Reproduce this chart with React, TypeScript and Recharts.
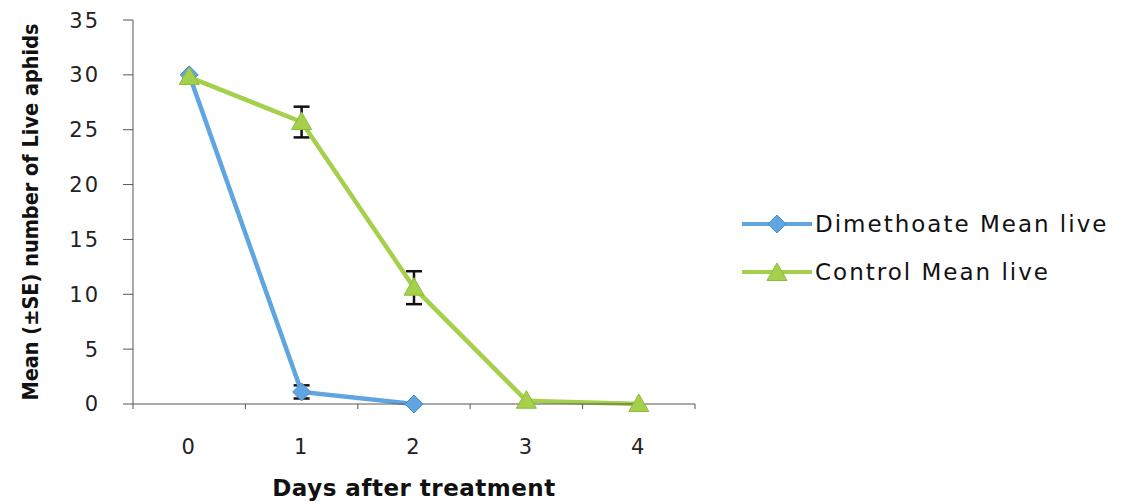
import React from 'react';
import { LineChart, Line, XAxis, YAxis, ErrorBar, Legend } from 'recharts';

const days = [0, 1, 2, 3, 4];
const dimethoateMean = [30, 1.1, 0, null, null];
const dimethoateSE = [0, 0.6, 0, null, null];
const controlMean = [29.8, 25.7, 10.6, 0.3, 0];
const controlSE = [0, 1.4, 1.5, 0, 0];
const yTicks = [0, 5, 10, 15, 20, 25, 30, 35];

const data = days.map((d, i) => ({
    day: d,
    dimethoate: dimethoateMean[i],
    dimethoateErr: dimethoateSE[i],
    control: controlMean[i],
    controlErr: controlSE[i],
}));

const W = 1106;
const H = 494;
const LEFT = 125;
const RIGHT = 419;
const HALF_BAND = (W - LEFT - RIGHT) / 5 / 2;

const BLUE = '#5fa5e2';
const GREEN = '#a4d04c';
const FONT = "'DejaVu Sans', 'Open Sans', sans-serif";

const Diamond = ({ cx, cy, color }: any) => {
    if (cx == null || cy == null) return null;
    const r = 9;
    return <path d={`M${cx},${cy - r}L${cx + r},${cy}L${cx},${cy + r}L${cx - r},${cy}Z`} fill={color} stroke="#4a8fd0" strokeWidth={1} />;
};

const Triangle = ({ cx, cy, color }: any) => {
    if (cx == null || cy == null) return null;
    const s = 10;
    return <path d={`M${cx},${cy - s}L${cx + s},${cy + s * 0.75}L${cx - s},${cy + s * 0.75}Z`} fill={color} stroke="#8dbb3a" strokeWidth={1} />;
};

const XTick = (props: any) => {
    const { x, y, payload, index } = props;
    return (
        <g>
            <line x1={x - HALF_BAND} x2={x - HALF_BAND} y1={y} y2={y + 5} stroke="#555" />
            {index === days.length - 1 && <line x1={x + HALF_BAND} x2={x + HALF_BAND} y1={y} y2={y + 5} stroke="#555" />}
            <text x={x} y={y + 43} textAnchor="middle" dominantBaseline="central" fontFamily={FONT} fontSize={21} letterSpacing={2} fill="#222">
                {payload.value}
            </text>
        </g>
    );
};

const LegendContent = () => {
    const rows = [
        { label: 'Dimethoate Mean live', color: BLUE, shape: 'diamond' },
        { label: 'Control Mean live', color: GREEN, shape: 'triangle' },
    ];
    return (
        <div>
            {rows.map((r) => (
                <div key={r.label} style={{ display: 'flex', alignItems: 'center', height: 48 }}>
                    <svg width={72} height={24}>
                        <line x1={0} x2={70} y1={12} y2={12} stroke={r.color} strokeWidth={4} />
                        {r.shape === 'diamond' ? <Diamond cx={35} cy={12} color={r.color} /> : <Triangle cx={35} cy={13} color={r.color} />}
                    </svg>
                    <span style={{ fontFamily: FONT, fontSize: 23, letterSpacing: 2, color: '#111', marginLeft: 1 }}>{r.label}</span>
                </div>
            ))}
        </div>
    );
};

const YLabel = ({ viewBox }: any) => {
    const cy = viewBox.y + viewBox.height / 2;
    return (
        <text x={22} y={cy} transform={`rotate(-90, 22, ${cy})`} textAnchor="middle" dominantBaseline="central"
            fontFamily="'DejaVu Sans Condensed', 'Open Sans', sans-serif" fontWeight="bold" fontSize={21.5} fill="#111">
            Mean (±SE) number of Live aphids
        </text>
    );
};

const XLabel = ({ viewBox }: any) => {
    const cx = viewBox.x + viewBox.width / 2;
    return (
        <text x={cx} y={480} textAnchor="middle" dominantBaseline="central" fontFamily={FONT} fontWeight="bold" fontSize={23} letterSpacing={0.5} fill="#111">
            Days after treatment
        </text>
    );
};

export default function App() {
    return (
        <LineChart width={W} height={H} data={data} margin={{ top: 12, right: RIGHT, left: 0, bottom: 0 }}>
            <XAxis
                dataKey="day"
                type="number"
                domain={[-0.5, 4.5]}
                ticks={days}
                tickLine={false}
                tickSize={0}
                tickMargin={0}
                height={H - 396}
                stroke="#555"
                tick={<XTick />}
                label={<XLabel />}
            />
            <YAxis
                domain={[0, 35]}
                ticks={yTicks}
                width={LEFT}
                stroke="#555"
                tickSize={10}
                tickMargin={23}
                tick={{ fontFamily: FONT, fontSize: 21, letterSpacing: 2, fill: '#222' }}
                label={<YLabel />}
            />
            <Legend layout="horizontal" align="center" verticalAlign="middle" content={<LegendContent />}
                wrapperStyle={{ left: 734, top: 192, width: 380 }} />
            <Line dataKey="dimethoate" name="Dimethoate Mean live" stroke={BLUE} strokeWidth={4.5}
                dot={(p: any) => <Diamond key={`d${p.index}`} cx={p.cx} cy={p.cy} color={BLUE} />}
                activeDot={false} isAnimationActive={false}>
                <ErrorBar dataKey="dimethoateErr" direction="y" width={8} stroke="#111" strokeWidth={2.5} />
            </Line>
            <Line dataKey="control" name="Control Mean live" stroke={GREEN} strokeWidth={4.5}
                dot={(p: any) => <Triangle key={`c${p.index}`} cx={p.cx} cy={p.cy} color={GREEN} />}
                activeDot={false} isAnimationActive={false}>
                <ErrorBar dataKey="controlErr" direction="y" width={8} stroke="#111" strokeWidth={2.5} />
            </Line>
        </LineChart>
    );
}
